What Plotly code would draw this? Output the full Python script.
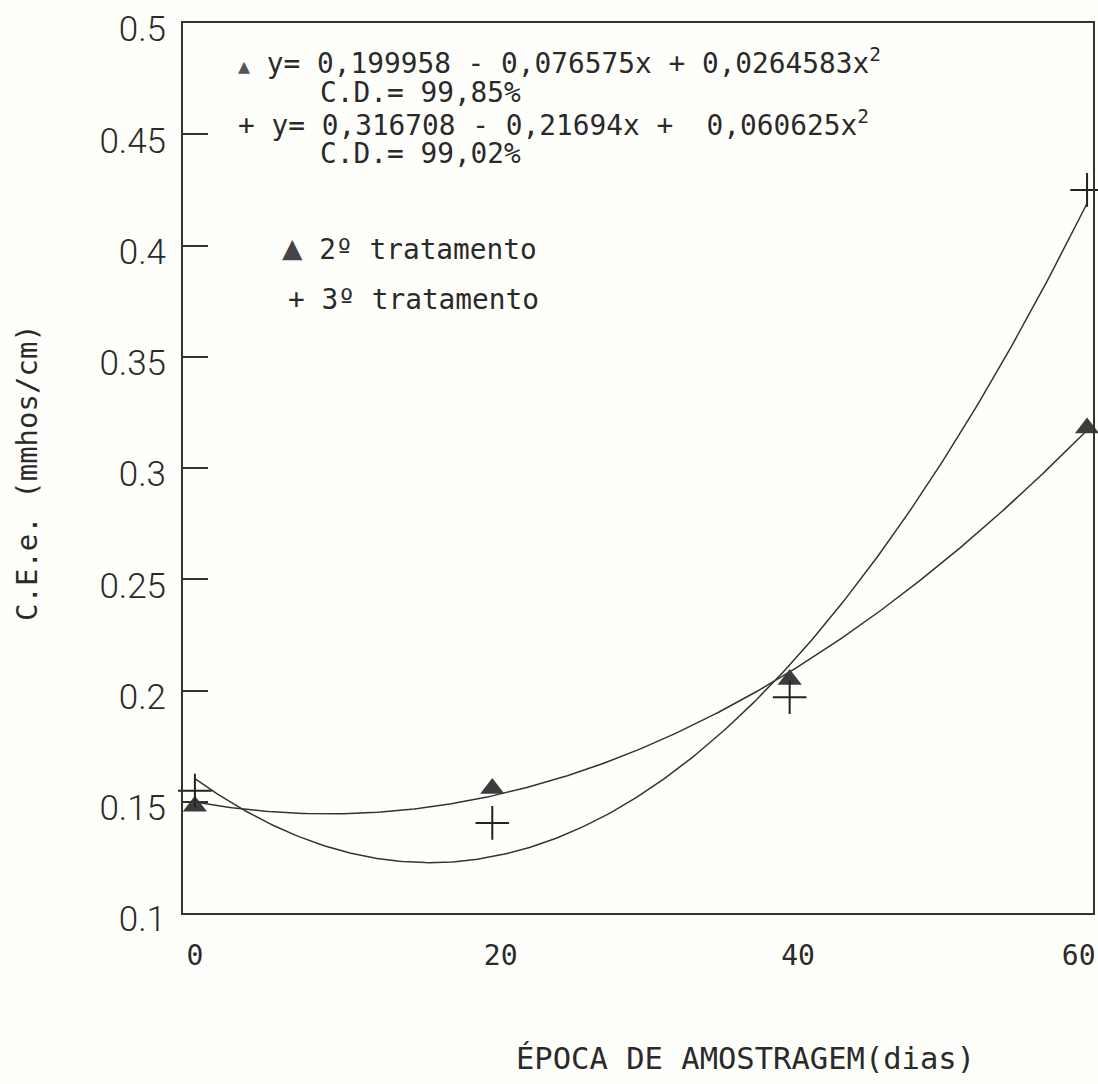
import numpy as np
import plotly.graph_objects as go

# ---- data ----
dias = [0, 20, 40, 60]
trat2 = [0.148, 0.156, 0.205, 0.318]   # 2º tratamento (triangles)
trat3 = [0.155, 0.1405, 0.197, 0.425]  # 3º tratamento (plus)

# regression coefficients printed on the chart (x = sampling index 1..4)
coef2 = [0.199958, -0.076575, 0.0264583]
coef3 = [0.316708, -0.21694, 0.060625]

y_ticks = [0.1, 0.15, 0.2, 0.25, 0.3, 0.35, 0.4, 0.45, 0.5]
y_ticktext = ["0.1", "0.15", "0.2", "0.25", "0.3", "0.35", "0.4", "0.45", "0.5"]
x_ticks = [0, 20, 40, 60]
x_ticktext = ["0", "20", "40", "60"]

eq2 = "y= 0,199958 - 0,076575x + 0,0264583x<sup>2</sup>"
cd2 = "C.D.= 99,85%"
eq3 = "y= 0,316708 - 0,21694x +  0,060625x<sup>2</sup>"
cd3 = "C.D.= 99,02%"
leg2 = "2º tratamento"
leg3 = "3º tratamento"

# ---- curves from the printed equations ----
d = np.linspace(0, 60, 241)
xc = d / 20 + 1
curve2 = coef2[0] + coef2[1] * xc + coef2[2] * xc ** 2
curve3 = coef3[0] + coef3[1] * xc + coef3[2] * xc ** 2

MONO = "DejaVu Sans Mono"
INK = "#2a2a2a"
BG = "#fefefb"
NB = "\u00a0"

# typewriter-like label placement (padding only, text unchanged)
x_tick_display = [x_ticktext[0], NB + x_ticktext[1], NB + x_ticktext[2], x_ticktext[3] + NB]

fig = go.Figure()
fig.add_trace(go.Scatter(x=d, y=curve3, mode="lines",
                         line=dict(color="#333333", width=1.5), showlegend=False, hoverinfo="skip"))
fig.add_trace(go.Scatter(x=d, y=curve2, mode="lines",
                         line=dict(color="#333333", width=1.5), showlegend=False, hoverinfo="skip"))
fig.add_trace(go.Scatter(x=dias, y=trat2, mode="markers", name=leg2,
                         marker=dict(symbol="triangle-up", size=21, color="#3c3c3c",
                                     line=dict(width=0)),
                         cliponaxis=False, showlegend=False))
fig.add_trace(go.Scatter(x=dias, y=trat3, mode="markers", name=leg3,
                         marker=dict(symbol="cross-thin", size=24,
                                     line=dict(width=2, color="#222222")),
                         cliponaxis=False, showlegend=False))

L, R, T, B = 183, 5, 23, 171
W, H = 1098, 1084
pw, ph = W - L - R, H - T - B


def px(xpix):
    return (xpix - L) / pw


def py(ypix):
    return (H - B - ypix) / ph


ann = []
fnt = dict(family=MONO, size=27.8, color=INK)
ann.append(dict(x=px(236), y=py(61), xref="paper", yref="paper", xanchor="left", yanchor="middle",
                text="<span style='color:#555;font-size:20px'>▲</span> " + eq2, showarrow=False, font=fnt))
ann.append(dict(x=px(318), y=py(92), xref="paper", yref="paper", xanchor="left", yanchor="middle",
                text=cd2, showarrow=False, font=fnt))
ann.append(dict(x=px(236), y=py(123), xref="paper", yref="paper", xanchor="left", yanchor="middle",
                text="+ " + eq3, showarrow=False, font=fnt))
ann.append(dict(x=px(318), y=py(153), xref="paper", yref="paper", xanchor="left", yanchor="middle",
                text=cd3, showarrow=False, font=fnt))
ann.append(dict(x=px(280), y=py(247), xref="paper", yref="paper", xanchor="left", yanchor="middle",
                text="<span style='color:#444;font-size:34px'>▲</span> " + leg2, showarrow=False, font=fnt))
ann.append(dict(x=px(286), y=py(300), xref="paper", yref="paper", xanchor="left", yanchor="middle",
                text="+ " + leg3, showarrow=False, font=fnt))
# axis titles
ann.append(dict(x=px(27), y=py(473), xref="paper", yref="paper", xanchor="center", yanchor="middle",
                text="C.E.e. (mmhos/cm)", textangle=-90, showarrow=False,
                font=dict(family=MONO, size=29, color=INK)))
ann.append(dict(x=px(745), y=py(1058), xref="paper", yref="paper", xanchor="center", yanchor="middle",
                text="ÉPOCA DE AMOSTRAGEM(dias)", showarrow=False,
                font=dict(family=MONO, size=30.5, color=INK)))

fig.update_layout(
    width=W, height=H,
    margin=dict(l=L, r=R, t=T, b=B, pad=0, autoexpand=False),
    paper_bgcolor=BG, plot_bgcolor=BG,
    showlegend=False,
    annotations=ann,
)
fig.update_xaxes(range=[-0.8, 60.4], tickvals=x_ticks, ticktext=x_tick_display,
                 showgrid=False, zeroline=False, showline=True, linecolor="#333", linewidth=2,
                 mirror=True, ticks="", ticklabelstandoff=16, ticklabeloverflow="allow",
                 automargin=False,
                 tickfont=dict(family=MONO, size=28, color=INK))
fig.update_yaxes(range=[0.1, 0.5], tickvals=y_ticks, ticktext=y_ticktext,
                 showgrid=False, zeroline=False, showline=True, linecolor="#333", linewidth=2,
                 mirror=True, ticks="inside", ticklen=25, tickwidth=1.5, tickcolor="#333",
                 ticklabelstandoff=8, ticklabelshift=6, ticklabeloverflow="allow",
                 automargin=False,
                 tickfont=dict(family="Roboto", size=35, color=INK, weight=300))

fig.write_html("out.html")
